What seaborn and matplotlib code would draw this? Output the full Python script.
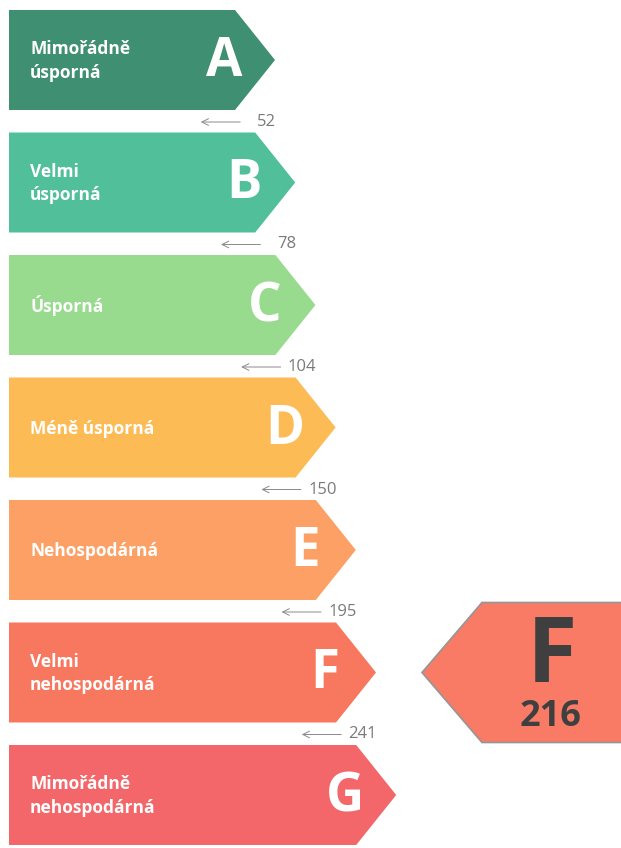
import numpy as np
import matplotlib.pyplot as plt
import seaborn as sns
from matplotlib.patches import Polygon

# energy classes, top to bottom
CLASSES = ["A", "B", "C", "D", "E", "F", "G"]
DESCRIPTIONS = [
    "Mimořádně\núsporná",
    "Velmi\núsporná",
    "Úsporná",
    "Méně úsporná",
    "Nehospodárná",
    "Velmi\nnehospodárná",
    "Mimořádně\nnehospodárná",
]
THRESHOLDS = [52, 78, 104, 150, 195, 241]
COLORS = ["#3f8f72", "#52bf9b", "#98da8e", "#fdbb55", "#fca065", "#f8785f", "#f3666a"]

RATING = "F"
RATING_VALUE = 216
RATING_COLOR = "#f97b66"

W, H = 621, 848


def arrow_poly(x0, y0, body_len, height, head):
    # right pointing arrow, pixel coords (y downwards)
    return np.array([
        [x0, y0], [x0 + body_len, y0], [x0 + body_len + head, y0 + height / 2],
        [x0 + body_len, y0 + height], [x0, y0 + height]])


def main():
    sns.set_theme(style="white")
    plt.rcParams["font.family"] = ["Open Sans", "DejaVu Sans"]

    fig = plt.figure(figsize=(W / 100, H / 100), dpi=100)
    ax = fig.add_axes([0, 0, 1, 1])
    ax.set_xlim(0, W)
    ax.set_ylim(H, 0)
    ax.axis("off")

    top0, step, bar_h = 10, 122.5, 100
    left, head = 9, 40
    tip0, tip_step = 275, 20.2

    for i, (cls, desc, col) in enumerate(zip(CLASSES, DESCRIPTIONS, COLORS)):
        top = top0 + i * step
        tip = tip0 + i * tip_step
        ax.add_patch(Polygon(arrow_poly(left, top, tip - head - left, bar_h, head),
                             closed=True, facecolor=col, edgecolor="none"))
        ax.text(30, top + bar_h / 2 + 1, desc, color="white", fontsize=12.5, fontweight="bold",
                ha="left", va="center", linespacing=1.4)
        ax.text(tip - 51, top + bar_h / 2 + 2, cls, color="white", fontsize=38,
                fontweight="bold", ha="center", va="center")

        if i < len(THRESHOLDS):
            y = top + bar_h + 12
            ax.annotate("", xy=(tip - 77, y), xytext=(tip - 32, y),
                        arrowprops=dict(arrowstyle="->", color="#8a8a8a", lw=0.7))
            ax.text(tip + 1, y, str(THRESHOLDS[i]), color="#7a7a7a", fontsize=12,
                    ha="right", va="center")

    # current rating marker
    r = CLASSES.index(RATING)
    cy = top0 + r * step + bar_h / 2
    ind_h, ind_head, ind_tip = 140, 60, 422
    pts = np.array([[ind_tip, cy], [ind_tip + ind_head, cy - ind_h / 2],
                    [W + 5, cy - ind_h / 2], [W + 5, cy + ind_h / 2],
                    [ind_tip + ind_head, cy + ind_h / 2]])
    ax.add_patch(Polygon(pts, closed=True, facecolor=RATING_COLOR,
                         edgecolor="#959595", lw=1.2))
    ax.text(552, cy - 15, RATING, color="#3f3f3f", fontsize=66, fontweight="bold",
            ha="center", va="center")
    ax.text(551, cy + 44, str(RATING_VALUE), color="#3f3f3f", fontsize=26,
            fontweight="bold", ha="center", va="center")

    fig.savefig("out.png", dpi=100, facecolor="white")
    plt.close(fig)


if __name__ == "__main__":
    main()
